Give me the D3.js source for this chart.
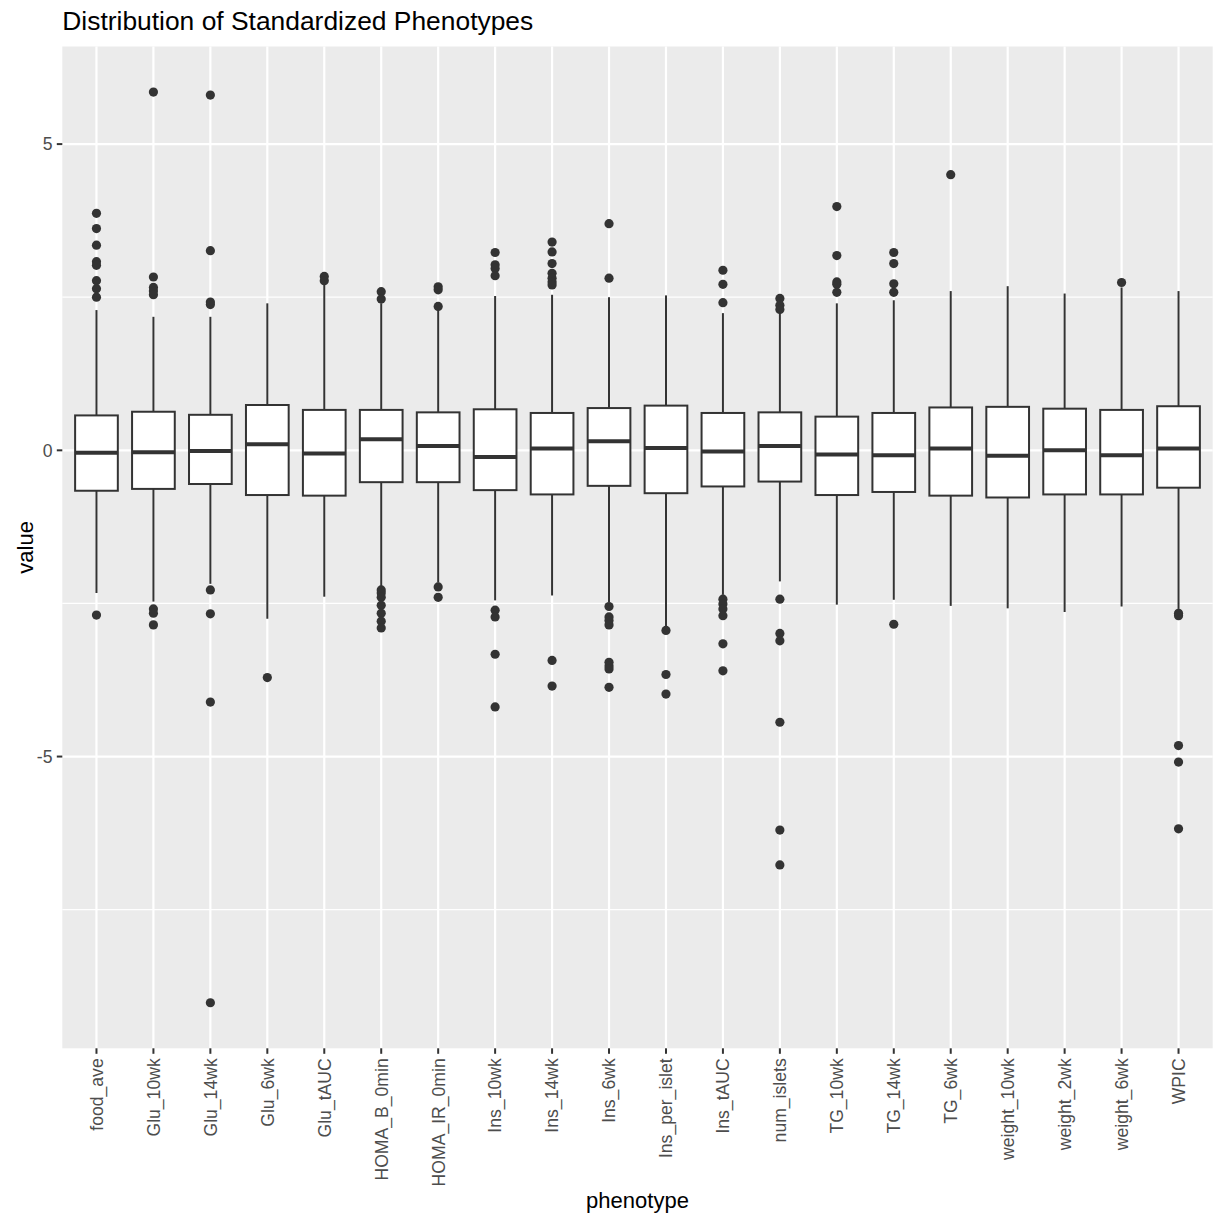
<!DOCTYPE html>
<html>
<head>
<meta charset="utf-8">
<script src="https://cdn.jsdelivr.net/npm/d3@7"></script>
<style>
  html, body { margin: 0; padding: 0; background: #ffffff; }
  svg { display: block; font-family: "Liberation Sans", Arial, Helvetica, sans-serif; }
</style>
</head>
<body>
<svg id="chart" width="1224" height="1224"></svg>
<script>
const categories = ["food_ave","Glu_10wk","Glu_14wk","Glu_6wk","Glu_tAUC","HOMA_B_0min","HOMA_IR_0min","Ins_10wk","Ins_14wk","Ins_6wk","Ins_per_islet","Ins_tAUC","num_islets","TG_10wk","TG_14wk","TG_6wk","weight_10wk","weight_2wk","weight_6wk","WPIC"];
const whiskerLow  = [-2.33,-2.47,-2.18,-2.75,-2.39,-2.24,-2.16,-2.45,-2.37,-2.48,-2.88,-2.36,-2.14,-2.52,-2.44,-2.54,-2.58,-2.64,-2.55,-2.59];
const q1          = [-0.66,-0.63,-0.55,-0.73,-0.74,-0.52,-0.52,-0.65,-0.72,-0.58,-0.70,-0.59,-0.51,-0.73,-0.68,-0.74,-0.77,-0.72,-0.72,-0.61];
const medians     = [-0.04,-0.03,-0.01, 0.10,-0.05, 0.18, 0.07,-0.11, 0.03, 0.15, 0.04,-0.02, 0.07,-0.07,-0.08, 0.03,-0.09, 0.00,-0.08, 0.03];
const q3          = [ 0.57, 0.63, 0.58, 0.74, 0.66, 0.66, 0.62, 0.67, 0.61, 0.69, 0.73, 0.61, 0.62, 0.55, 0.61, 0.70, 0.71, 0.68, 0.66, 0.72];
const whiskerHigh = [ 2.29, 2.18, 2.18, 2.40, 2.72, 2.40, 2.30, 2.52, 2.54, 2.50, 2.53, 2.24, 2.25, 2.40, 2.45, 2.60, 2.68, 2.56, 2.66, 2.60];
const outliers = [
  [3.87,3.62,3.35,3.08,3.02,2.77,2.64,2.50,-2.69],
  [5.85,2.83,2.66,2.60,2.54,-2.59,-2.66,-2.85],
  [5.80,3.26,2.42,2.38,-2.28,-2.67,-4.11,-9.02],
  [-3.71],
  [2.84,2.77],
  [2.59,2.47,-2.28,-2.33,-2.40,-2.53,-2.66,-2.79,-2.90],
  [2.67,2.62,2.35,-2.23,-2.40],
  [3.23,3.03,2.97,2.85,-2.61,-2.72,-3.33,-4.19],
  [3.40,3.24,3.05,2.89,2.81,2.75,2.70,-3.43,-3.85],
  [3.70,2.81,-2.55,-2.72,-2.78,-2.85,-3.46,-3.52,-3.57,-3.87],
  [-2.94,-3.66,-3.98],
  [2.94,2.71,2.41,-2.43,-2.51,-2.59,-2.70,-3.16,-3.60],
  [2.48,2.37,2.30,-2.43,-2.99,-3.11,-4.44,-6.20,-6.77],
  [3.98,3.18,2.75,2.71,2.58],
  [3.23,3.05,2.72,2.58,-2.84],
  [4.50],
  [],
  [],
  [2.74],
  [-2.66,-2.70,-4.82,-5.09,-6.18]
];
const yMajorTicks = [-5, 0, 5];
const yMinorTicks = [-7.5, -2.5, 2.5];
const titleText = "Distribution of Standardized Phenotypes";
const xTitle = "phenotype";
const yTitle = "value";

const svg = d3.select("#chart");
const panel = {left: 62.3, right: 1212.7, top: 46.5, bottom: 1048.3};

const allVals = [];
categories.forEach((c, i) => {
  allVals.push(whiskerLow[i], whiskerHigh[i], ...outliers[i]);
});
const ext = d3.extent(allVals);
const pad = (ext[1] - ext[0]) * 0.05;

const x = d3.scalePoint().domain(categories).range([panel.left, panel.right]).padding(0.6);
const y = d3.scaleLinear().domain([ext[0] - pad, ext[1] + pad]).range([panel.bottom, panel.top]);
const step = x.step();
const boxW = step * 0.75;

const tickFont = 17.6, axisTitleFont = 22, titleFont = 26.4;

// panel background
svg.append("rect")
  .attr("x", panel.left).attr("y", panel.top)
  .attr("width", panel.right - panel.left).attr("height", panel.bottom - panel.top)
  .attr("fill", "#EBEBEB");

// minor grid
svg.append("g").selectAll("line").data(yMinorTicks).join("line")
  .attr("x1", panel.left).attr("x2", panel.right)
  .attr("y1", d => y(d)).attr("y2", d => y(d))
  .attr("stroke", "#ffffff").attr("stroke-width", 1.2);

// major grid
svg.append("g").selectAll("line").data(yMajorTicks).join("line")
  .attr("x1", panel.left).attr("x2", panel.right)
  .attr("y1", d => y(d)).attr("y2", d => y(d))
  .attr("stroke", "#ffffff").attr("stroke-width", 2.2);
svg.append("g").selectAll("line").data(categories).join("line")
  .attr("x1", d => x(d)).attr("x2", d => x(d))
  .attr("y1", panel.top).attr("y2", panel.bottom)
  .attr("stroke", "#ffffff").attr("stroke-width", 2.2);

const stroke = "#333333";
const boxes = svg.append("g");
categories.forEach((c, i) => {
  const cx = x(c);
  const g = boxes.append("g");
  g.append("line").attr("x1", cx).attr("x2", cx)
    .attr("y1", y(q3[i])).attr("y2", y(whiskerHigh[i]))
    .attr("stroke", stroke).attr("stroke-width", 2);
  g.append("line").attr("x1", cx).attr("x2", cx)
    .attr("y1", y(q1[i])).attr("y2", y(whiskerLow[i]))
    .attr("stroke", stroke).attr("stroke-width", 2);
  g.append("rect")
    .attr("x", cx - boxW / 2).attr("width", boxW)
    .attr("y", y(q3[i])).attr("height", y(q1[i]) - y(q3[i]))
    .attr("fill", "#ffffff").attr("stroke", stroke).attr("stroke-width", 2);
  g.append("line")
    .attr("x1", cx - boxW / 2).attr("x2", cx + boxW / 2)
    .attr("y1", y(medians[i])).attr("y2", y(medians[i]))
    .attr("stroke", stroke).attr("stroke-width", 4);
  g.selectAll("circle").data(outliers[i]).join("circle")
    .attr("cx", cx).attr("cy", d => y(d)).attr("r", 4.6)
    .attr("fill", stroke);
});

// y axis
const yAxis = svg.append("g");
yAxis.selectAll("line").data(yMajorTicks).join("line")
  .attr("x1", panel.left - 5.5).attr("x2", panel.left)
  .attr("y1", d => y(d)).attr("y2", d => y(d))
  .attr("stroke", stroke).attr("stroke-width", 2);
yAxis.selectAll("text").data(yMajorTicks).join("text")
  .attr("x", panel.left - 9.8).attr("y", d => y(d))
  .attr("dy", "0.36em")
  .attr("text-anchor", "end")
  .attr("font-size", tickFont).attr("fill", "#4D4D4D")
  .text(d => String(d));

// x axis
const xAxis = svg.append("g");
xAxis.selectAll("line").data(categories).join("line")
  .attr("x1", d => x(d)).attr("x2", d => x(d))
  .attr("y1", panel.bottom).attr("y2", panel.bottom + 5.5)
  .attr("stroke", stroke).attr("stroke-width", 2);
xAxis.selectAll("text").data(categories).join("text")
  .attr("transform", d => `translate(${x(d)},${panel.bottom + 10}) rotate(-90)`)
  .attr("text-anchor", "end")
  .attr("dy", "0.36em")
  .attr("font-size", tickFont).attr("fill", "#4D4D4D")
  .text(d => d);

// titles
svg.append("text")
  .attr("x", panel.left).attr("y", 30)
  .attr("font-size", titleFont).attr("fill", "#000000")
  .text(titleText);
svg.append("text")
  .attr("x", (panel.left + panel.right) / 2).attr("y", 1208)
  .attr("text-anchor", "middle")
  .attr("font-size", axisTitleFont).attr("fill", "#000000")
  .text(xTitle);
svg.append("text")
  .attr("transform", `translate(33,${(panel.top + panel.bottom) / 2}) rotate(-90)`)
  .attr("text-anchor", "middle")
  .attr("font-size", axisTitleFont).attr("fill", "#000000")
  .text(yTitle);
</script>
</body>
</html>
